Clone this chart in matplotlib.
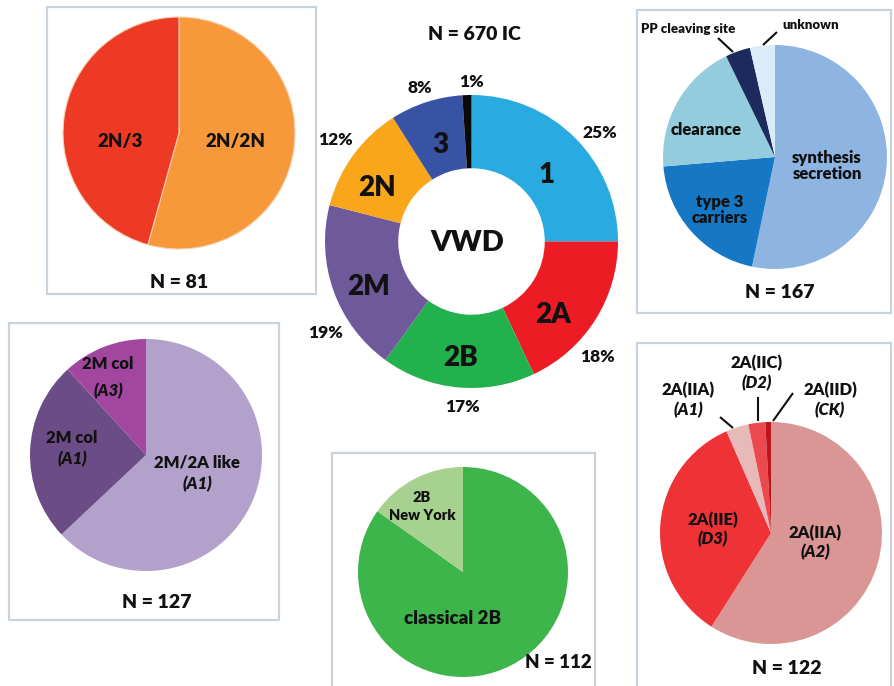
import matplotlib
matplotlib.use('Agg')
import matplotlib.pyplot as plt
from matplotlib.patches import Rectangle

# ---------------- data ----------------
vwd_types = ['1', '2A', '2B', '2M', '2N', '3', 'other']
vwd_pct = [25, 18, 17, 19, 12, 8, 1]

n2_types = ['2N/2N', '2N/3']
n2_counts = [44, 37]

t1_mech = ['synthesis\nsecretion', 'type 3\ncarriers', 'clearance', 'PP cleaving site', 'unknown']
t1_counts = [89, 34, 32, 6, 6]

m2_types = ['2M/2A like (A1)', '2M col (A1)', '2M col (A3)']
m2_counts = [80, 32, 15]

b2_types = ['classical 2B', '2B New York']
b2_counts = [95, 17]

a2_types = ['2A(IIA) (A2)', '2A(IIE) (D3)', '2A(IIA) (A1)', '2A(IIC) (D2)', '2A(IID) (CK)']
a2_counts = [72, 42, 4, 3, 1]

# ---------------- styles ----------------
W, H = 894, 686
FONT = 'Lato'
BOX = '#C9D3DB'

fig = plt.figure(figsize=(W / 100, H / 100), dpi=100)
fig.patch.set_facecolor('white')
ax = fig.add_axes([0, 0, 1, 1])


def Y(y):
    return H - y


def txt(x, y, s, size, style='normal', weight='heavy', **kw):
    ax.text(x, Y(y), s, ha='center', va='center', fontsize=size,
            fontweight=weight, fontstyle=style, family=FONT, color='#111111', **kw)


def box(x0, y0, x1, y1):
    ax.add_patch(Rectangle((x0, Y(y1)), x1 - x0, y1 - y0, fill=False,
                           edgecolor=BOX, lw=1.6, clip_on=False, zorder=0))


def leader(x1, y1, x2, y2):
    ax.plot([x1, x2], [Y(y1), Y(y2)], color='#111111', lw=1.5, solid_capstyle='butt')


# boxes
box(47, 7, 316, 294)
box(637, 10, 891, 313)
box(9, 323, 279, 620)
box(332, 453, 595, 700)
box(637, 343, 891, 700)

# --- central donut ---
vwd_colors = ['#29ABE2', '#ED1C24', '#22B14C', '#6E5A9A', '#F9A61B', '#3853A4', '#0A0A0A']
R = 146.5
ax.pie(vwd_pct, colors=vwd_colors, startangle=90, counterclock=False,
       center=(471.5, Y(241.5)), radius=R,
       wedgeprops=dict(width=R * 0.5, linewidth=0))
txt(474, 35, 'N = 670 IC', 14)
txt(467, 243, 'VWD', 21)
for s, x, y in [('1', 547, 175), ('2A', 553, 315), ('2B', 460, 358), ('2M', 369, 287),
                ('2N', 377, 188), ('3', 440, 145)]:
    txt(x, y, s, 20)
for s, x, y in [('25%', 600, 133), ('18%', 598, 357), ('17%', 463, 407), ('19%', 326, 333),
                ('12%', 336, 140), ('8%', 420, 88), ('1%', 472, 82)]:
    txt(x, y, s, 12.5)

# --- top-left: 2N ---
ax.pie(n2_counts, colors=['#F7993B', '#EE3A24'], startangle=90, counterclock=False,
       center=(179, Y(133)), radius=116,
       wedgeprops=dict(linewidth=0.8, edgecolor='#F6D0B0'))
txt(235, 142, '2N/2N', 13.5)
txt(120, 142, '2N/3', 13.5)
txt(179, 283, 'N = 81', 14)

# --- top-right: type 1 mechanisms ---
ax.pie(t1_counts, colors=['#8EB4E2', '#1677C5', '#93CDDD', '#1D2A5E', '#DCEBFA'],
       startangle=90, counterclock=False, center=(775, Y(157)), radius=112,
       wedgeprops=dict(linewidth=0))
txt(827, 166, 'synthesis\nsecretion', 12, linespacing=1.0)
txt(720, 210, 'type 3\ncarriers', 12, linespacing=1.0)
txt(706, 130, 'clearance', 12)
txt(688, 29, 'PP cleaving site', 9.5)
txt(811, 25, 'unknown', 9.5)
leader(733, 52, 718, 38)
leader(763, 45, 777, 32)
txt(780, 293, 'N = 167', 14)

# --- bottom-left: 2M ---
ax.pie(m2_counts, colors=['#B1A1CB', '#6C4C86', '#A2469F'], startangle=90,
       counterclock=False, center=(146, Y(455)), radius=116,
       wedgeprops=dict(linewidth=0))
txt(197, 462, '2M/2A like', 12)
txt(197, 484, '(A1)', 12, style='italic')
txt(72, 438, '2M col', 12)
txt(72, 459, '(A1)', 12, style='italic')
txt(108, 364, '2M col', 12)
txt(108, 391, '(A3)', 12, style='italic')
txt(157, 603, 'N = 127', 14)

# --- bottom-middle: 2B ---
ax.pie(b2_counts, colors=['#3DB54A', '#A7D18E'], startangle=90, counterclock=False,
       center=(463, Y(572)), radius=105, wedgeprops=dict(linewidth=0))
txt(422, 497, '2B', 10.5)
txt(422, 516, 'New York', 10.5)
txt(453, 618, 'classical 2B', 13.5)
txt(558, 663, 'N = 112', 13.5)

# --- bottom-right: 2A ---
ax.pie(a2_counts, colors=['#D99695', '#EE3236', '#E7BAB9', '#E9494F', '#C0141C'],
       startangle=90, counterclock=False, center=(771, Y(533)), radius=111,
       wedgeprops=dict(linewidth=0))
txt(815, 533, '2A(IIA)', 12)
txt(815, 552, '(A2)', 12, style='italic')
txt(713, 520, '2A(IIE)', 12)
txt(713, 539, '(D3)', 12, style='italic')
txt(688, 390, '2A(IIA)', 12)
txt(688, 410, '(A1)', 12, style='italic')
txt(757, 363, '2A(IIC)', 12)
txt(757, 383, '(D2)', 12, style='italic')
txt(830, 390, '2A(IID)', 12)
txt(830, 410, '(CK)', 12, style='italic')
leader(733, 428, 720, 417)
leader(758, 421, 758, 397)
leader(773, 421, 793, 393)
txt(787, 669, 'N = 122', 14)

ax.set_xlim(0, W)
ax.set_ylim(0, H)
ax.set_aspect('equal')
ax.axis('off')

fig.savefig('out.png', dpi=100, facecolor='white')
